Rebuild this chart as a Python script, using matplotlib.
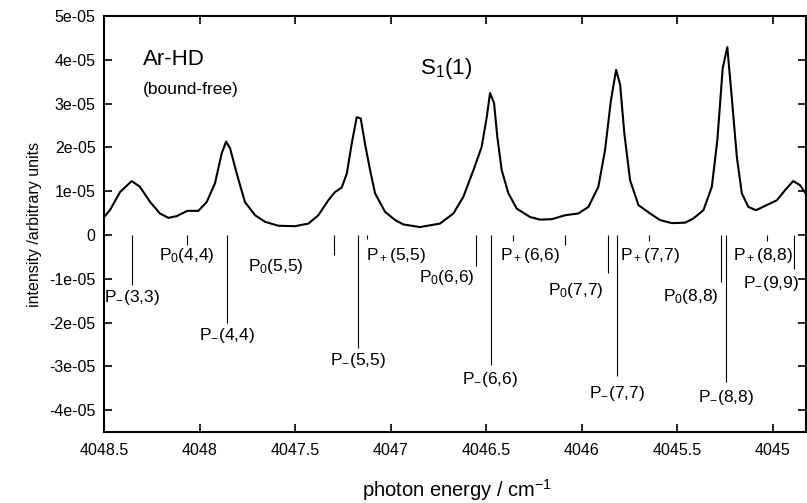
import matplotlib
matplotlib.use("Agg")
import matplotlib.pyplot as plt

plt.rcParams['font.family'] = ['Liberation Sans', 'DejaVu Sans']
plt.rcParams['mathtext.fontset'] = 'custom'
plt.rcParams['mathtext.rm'] = 'Liberation Sans'
plt.rcParams['mathtext.it'] = 'Liberation Sans:italic'
plt.rcParams['axes.unicode_minus'] = False

# spectrum (energy in cm-1, intensity in 1e-5)
energy = [4048.5, 4048.469, 4048.416, 4048.355, 4048.312, 4048.259, 4048.207,
          4048.163, 4048.119, 4048.064, 4048.006, 4047.962, 4047.919, 4047.884,
          4047.861, 4047.840, 4047.805, 4047.762, 4047.709, 4047.657, 4047.587,
          4047.5, 4047.430, 4047.378, 4047.326, 4047.291, 4047.256, 4047.229,
          4047.203, 4047.177, 4047.156, 4047.134, 4047.107, 4047.081, 4047.029,
          4046.976, 4046.933, 4046.846, 4046.741, 4046.671, 4046.619, 4046.566,
          4046.523, 4046.496, 4046.479, 4046.458, 4046.441, 4046.418, 4046.383,
          4046.339, 4046.270, 4046.217, 4046.156, 4046.086, 4046.017, 4045.964,
          4045.912, 4045.877, 4045.846, 4045.819, 4045.798, 4045.776, 4045.746,
          4045.702, 4045.641, 4045.589, 4045.528, 4045.458, 4045.415, 4045.362,
          4045.318, 4045.289, 4045.261, 4045.237, 4045.214, 4045.187, 4045.161,
          4045.127, 4045.087, 4045.022, 4044.978, 4044.935, 4044.892, 4044.857,
          4044.827]
intensity = [0.41, 0.565, 0.98, 1.23, 1.10, 0.755, 0.49,
             0.39, 0.43, 0.55, 0.55, 0.755, 1.18, 1.86,
             2.13, 1.98, 1.40, 0.75, 0.45, 0.30, 0.21,
             0.20, 0.26, 0.45, 0.79, 0.98, 1.08, 1.40,
             2.09, 2.69, 2.66, 2.09, 1.48, 0.95, 0.53,
             0.34, 0.24, 0.18, 0.26, 0.49, 0.87, 1.48,
             2.01, 2.70, 3.24, 3.01, 2.24, 1.48, 0.95,
             0.60, 0.41, 0.35, 0.36, 0.45, 0.49, 0.64,
             1.10, 1.94, 3.08, 3.77, 3.43, 2.32, 1.25,
             0.68, 0.49, 0.34, 0.27, 0.28, 0.375, 0.565,
             1.10, 2.17, 3.81, 4.29, 3.16, 1.78, 0.95,
             0.64, 0.565, 0.70, 0.79, 1.02, 1.23, 1.14,
             0.95]

# stick positions and depths (1e-5)
stick_pos = [4048.353, 4048.064, 4047.858, 4047.294, 4047.172, 4047.123,
             4046.554, 4046.476, 4046.357, 4046.086, 4045.861, 4045.813,
             4045.645, 4045.270, 4045.245, 4045.030, 4044.886]
stick_len = [1.15, 0.24, 2.00, 0.45, 2.58, 0.10,
             0.70, 2.96, 0.14, 0.24, 0.88, 3.23,
             0.14, 1.07, 3.36, 0.14, 0.77]

labels = ['P$_{-}$(3,3)', 'P$_0$(4,4)', 'P$_{-}$(4,4)', 'P$_0$(5,5)',
          'P$_+$(5,5)', 'P$_0$(6,6)', 'P$_{-}$(5,5)', 'P$_{-}$(6,6)',
          'P$_+$(6,6)', 'P$_0$(7,7)', 'P$_+$(7,7)', 'P$_{-}$(7,7)',
          'P$_0$(8,8)', 'P$_{-}$(8,8)', 'P$_+$(8,8)', 'P$_{-}$(9,9)']
label_x = [4048.5, 4048.212, 4048.003, 4047.746, 4047.128, 4046.851,
           4047.317, 4046.626, 4046.427, 4046.175, 4045.798, 4045.961,
           4045.573, 4045.390, 4045.207, 4045.155]
label_y = [-1.42, -0.46, -2.30, -0.73, -0.46, -0.975, -2.87, -3.31,
           -0.46, -1.27, -0.46, -3.62, -1.40, -3.71, -0.46, -1.11]

xticks = [4048.5, 4048, 4047.5, 4047, 4046.5, 4046, 4045.5, 4045]
xtick_labels = ['4048.5', '4048', '4047.5', '4047', '4046.5', '4046', '4045.5', '4045']
yticks = [5, 4, 3, 2, 1, 0, -1, -2, -3, -4]
ytick_labels = ['5e-05', '4e-05', '3e-05', '2e-05', '1e-05', '0',
                '-1e-05', '-2e-05', '-3e-05', '-4e-05']

fig = plt.figure(figsize=(8.07, 5.03), dpi=100)
ax = fig.add_axes([104 / 807, 71 / 503, 702 / 807, 416 / 503])

ax.plot(energy, [v * 1e-5 for v in intensity], color='black', lw=1.5)
ax.vlines(stick_pos, [-l * 1e-5 for l in stick_len], 0, color='black', lw=0.8)

for txt, x, y in zip(labels, label_x, label_y):
    ax.text(x, y * 1e-5, txt, fontsize=12.5, va='center', ha='left')

ax.text(4048.296, 4.0e-5, 'Ar-HD', fontsize=16, va='center')
ax.text(4048.296, 3.32e-5, '(bound-free)', fontsize=12.5, va='center')
ax.text(4046.846, 3.79e-5, 'S$_1$(1)', fontsize=16, va='center')

ax.set_xlim(4048.5, 4044.825)
ax.set_ylim(-4.5e-5, 5e-5)
ax.set_xticks(xticks)
ax.set_xticklabels(xtick_labels)
ax.set_yticks([t * 1e-5 for t in yticks])
ax.set_yticklabels(ytick_labels)
ax.tick_params(direction='in', length=6, width=1.2, labelsize=11.5,
               top=True, right=True)
ax.tick_params(axis='x', pad=8)
ax.tick_params(axis='y', pad=6)
for s in ax.spines.values():
    s.set_linewidth(1.5)

ax.set_ylabel('intensity /arbitrary units', fontsize=11.5, labelpad=5)
fig.text(457 / 807, 1 - 490 / 503, 'photon energy / cm$^{-1}$', fontsize=14.5,
         ha='center', va='center')

fig.savefig('out.png', dpi=100)
